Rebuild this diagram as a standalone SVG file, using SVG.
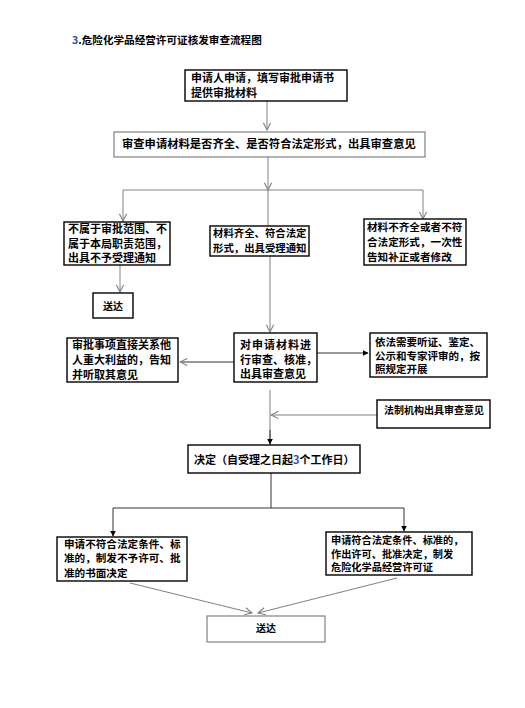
<svg xmlns="http://www.w3.org/2000/svg" width="525" height="708" viewBox="0 0 525 708">
<style>
text{font-family:"Noto Sans CJK SC","Liberation Sans",sans-serif;font-weight:bold;font-size:11px;fill:#000}
.box{fill:#fff;stroke:#000;stroke-width:1.4}
.gbox{fill:#fff;stroke:#808080;stroke-width:1.2}
.ln{fill:none;stroke:#808080;stroke-width:1}
.lk{fill:none;stroke:#333;stroke-width:1}
</style>
<defs>
<marker id="open" viewBox="0 0 10 10" refX="9" refY="5" markerWidth="9" markerHeight="9" markerUnits="userSpaceOnUse" orient="auto">
<path d="M1,1 L9,5 L1,9" fill="none" stroke="#808080" stroke-width="1.2"/>
</marker>
<marker id="fill" viewBox="0 0 10 10" refX="9" refY="5" markerWidth="6" markerHeight="6" markerUnits="userSpaceOnUse" orient="auto">
<path d="M0,0 L10,5 L0,10 Z" fill="#000"/>
</marker>
</defs>
<rect width="525" height="708" fill="#fff"/>
<text x="72" y="44" style="font-size:10.6px"><tspan fill="#3050a0">3</tspan>.危险化学品经营许可证核发审查流程图</text>

<g id="connectors">
<line class="ln" x1="267" y1="101" x2="267" y2="130" marker-end="url(#open)"/>
<line class="ln" x1="268" y1="157" x2="268" y2="190" marker-end="url(#open)"/>
<line class="ln" x1="123" y1="190" x2="423" y2="190"/>
<line class="ln" x1="123" y1="190" x2="123" y2="221" marker-end="url(#open)"/>
<line class="ln" x1="423" y1="190" x2="423" y2="219" marker-end="url(#open)"/>
<line class="ln" x1="268" y1="190" x2="268" y2="226"/>
<line class="ln" x1="120" y1="265" x2="120" y2="292" marker-end="url(#open)"/>
<line class="ln" x1="270" y1="256" x2="270" y2="332" marker-end="url(#open)"/>
<line class="lk" x1="234" y1="362" x2="180" y2="362" marker-end="url(#open)"/>
<line class="lk" x1="317" y1="353" x2="368" y2="353" marker-end="url(#fill)"/>
<line class="ln" x1="270" y1="390" x2="270" y2="445"/>
<line class="ln" x1="377" y1="415" x2="271" y2="415" marker-end="url(#open)"/>
<line class="lk" x1="270" y1="430" x2="270" y2="444" marker-end="url(#fill)"/>
<line class="lk" x1="271" y1="473" x2="271" y2="508"/>
<line class="lk" x1="113" y1="508" x2="404" y2="508"/>
<line class="lk" x1="113" y1="508" x2="113" y2="536" marker-end="url(#fill)"/>
<line class="lk" x1="404" y1="508" x2="404" y2="531" marker-end="url(#fill)"/>
<line class="ln" x1="130" y1="583" x2="252" y2="613" marker-end="url(#open)"/>
<line class="ln" x1="397" y1="578" x2="258" y2="613" marker-end="url(#open)"/>
</g>

<g id="n1"><rect class="box" x="185" y="70" width="162" height="31"/>
<text x="191" y="81.5">申请人申请，填写审批申请书</text><text x="191" y="97">提供审批材料</text></g>

<g id="n2"><rect class="gbox" x="114" y="132" width="311" height="25"/>
<text x="122" y="148" style="font-size:11.3px">审查申请材料是否齐全、是否符合法定形式，出具审查意见</text></g>

<g id="n3"><rect class="box" x="64" y="222" width="106" height="43"/>
<text x="68" y="233">不属于审批范围、不</text><text x="68" y="247.5">属于本局职责范围，</text><text x="68" y="262">出具不予受理通知</text></g>

<g id="n4"><rect class="box" x="93" y="293" width="40" height="25"/>
<text x="113" y="310" text-anchor="middle" style="font-size:10px">送达</text></g>

<g id="n5" style="font-size:10.4px"><rect class="box" x="210" y="226" width="99" height="30"/>
<text x="213" y="237" style="font-size:10.4px">材料齐全、符合法定</text><text x="213" y="252" style="font-size:10.4px">形式，出具受理通知</text></g>

<g id="n6"><rect class="box" x="364" y="219" width="102" height="46"/>
<text x="367" y="231" style="font-size:10.6px">材料不齐全或者不符</text><text x="367" y="246" style="font-size:10.6px">合法定形式，一次性</text><text x="367" y="261" style="font-size:10.6px">告知补正或者修改</text></g>

<g id="n7"><rect class="box" x="234" y="333" width="83" height="49"/>
<text x="240" y="349" style="letter-spacing:1px">对申请材料进</text><text x="240" y="363.5">行审查、核准，</text><text x="240" y="378">出具审查意见</text></g>

<g id="n8"><rect class="box" x="67" y="338" width="111" height="44"/>
<text x="72" y="349">审批事项直接关系他</text><text x="72" y="364">人重大利益的，告知</text><text x="72" y="379">并听取其意见</text></g>

<g id="n9"><rect class="box" x="370" y="333" width="117" height="44"/>
<text x="375" y="346" style="font-size:10.5px">依法需要听证、鉴定、</text><text x="375" y="359.5" style="font-size:10.5px">公示和专家评审的，按</text><text x="375" y="373" style="font-size:10.5px">照规定开展</text></g>

<g id="n10"><rect class="box" x="377" y="400" width="113" height="28"/>
<text x="384" y="414" style="font-size:10px">法制机构出具审查意见</text></g>

<g id="n11"><rect class="box" x="188" y="445" width="172" height="28"/>
<text x="194" y="464">决定（自受理之日起<tspan fill="#3050a0">3</tspan>个工作日）</text></g>

<g id="n12"><rect class="box" x="57" y="537" width="130" height="44"/>
<text x="64" y="548" style="font-size:10.6px">申请不符合法定条件、标</text><text x="64" y="562" style="font-size:10.6px">准的，制发不予许可、批</text><text x="64" y="577" style="font-size:10.6px">准的书面决定</text></g>

<g id="n13"><rect class="box" x="326" y="532" width="146" height="43"/>
<text x="331" y="544" style="font-size:10.2px">申请符合法定条件、标准的，</text><text x="331" y="557.5" style="font-size:10.2px">作出许可、批准决定，制发</text><text x="331" y="571" style="font-size:10.2px">危险化学品经营许可证</text></g>

<g id="n14"><rect class="gbox" x="207" y="616" width="118" height="26"/>
<text x="266" y="632" text-anchor="middle" style="font-size:10px">送达</text></g>
</svg>
